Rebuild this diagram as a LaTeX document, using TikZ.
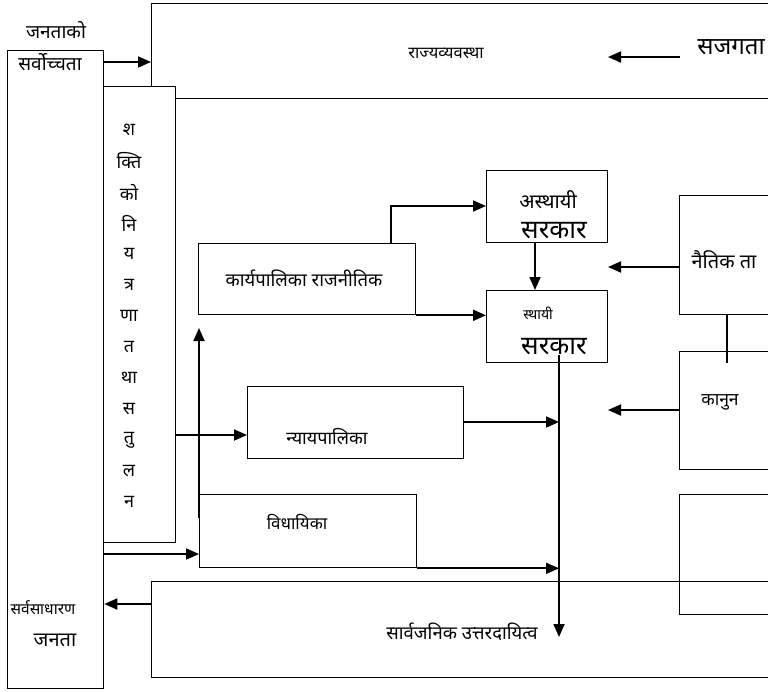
\documentclass[tikz,border=0pt]{standalone}
\usepackage{fontspec}
\newfontfamily\deva[Script=Devanagari]{Noto Sans}
\usetikzlibrary{arrows.meta,calc}
\newcommand{\fs}[1]{\deva\fontsize{#1}{#1}\selectfont}
\tikzset{
  bx/.style={draw, line width=1.3pt, inner sep=0pt, anchor=north west},
  wbx/.style={bx, fill=white},
  arr/.style={line width=1.8pt, -{Triangle[length=13pt,width=11pt]}},
  lbl/.style={font=\fs{18}, inner sep=0pt},
}
\begin{document}
\begin{tikzpicture}[x=1pt,y=-1pt]
\useasboundingbox (0,0) rectangle (768,691);
\clip (0,0) rectangle (768,691);
% boxes
\node[bx, minimum width=96pt, minimum height=638pt] (janata) at (7,50) {};
\node[bx, minimum width=640pt, minimum height=95pt] (rajya) at (151,3) {};
\node[wbx, minimum width=72pt, minimum height=456pt] (shakti) at (103,86) {};
\node[bx, minimum width=640pt, minimum height=96pt] (jawab) at (151,581) {};
\node[bx, minimum width=120pt, minimum height=119pt] (naitik) at (679,195) {};
\node[bx, minimum width=120pt, minimum height=118pt] (kanun) at (679,351) {};
\node[bx, minimum width=120pt, minimum height=120pt] (blank) at (679,494) {};
\node[bx, minimum width=217pt, minimum height=71pt] (karya) at (198,243) {};
\node[bx, minimum width=121pt, minimum height=72pt] (asth) at (486,170) {};
\node[bx, minimum width=121pt, minimum height=72pt] (sthayi) at (486,290) {};
\node[bx, minimum width=216pt, minimum height=72pt] (nyaya) at (247,386) {};
\node[bx, minimum width=217pt, minimum height=73pt] (vidh) at (199,494) {};
% texts
\node[lbl, font=\fs{19}] (t1) at (56,30) {जनताको};
\node[lbl, font=\fs{19}] (t2) at (50,62) {सर्वोच्चता};
\foreach \t [count=\i] in {श,क्ति,को,नि,य,त्र,णा,त,था,स,तु,ल,न}
  \node[lbl] (s\i) at (129,99+31*\i) {\t};
\node[lbl, font=\fs{16.5}] (t3) at (446,53) {राज्यव्यवस्था};
\node[lbl, font=\fs{24}] (t4) at (731,47) {सजगता};
\node[lbl, font=\fs{18.5}] (t5) at (304,278) {कार्यपालिका राजनीतिक};
\node[lbl, font=\fs{20}] (t6) at (548,200) {अस्थायी};
\node[lbl, font=\fs{26}] (t7) at (554,231) {सरकार};
\node[lbl, font=\fs{14}] (t8) at (538,313) {स्थायी};
\node[lbl, font=\fs{26}] (t9) at (554,347) {सरकार};
\node[lbl, font=\fs{20}] (t10) at (724,260) {नैतिक ता};
\node[lbl, font=\fs{17.5}] (t11) at (720,402) {कानुन};
\node[lbl] (t12) at (327,437) {न्यायपालिका};
\node[lbl, font=\fs{17}] (t13) at (297,522) {विधायिका};
\node[lbl, font=\fs{18.5}] (t14) at (462,632) {सार्वजनिक उत्तरदायित्व};
\node[lbl, font=\fs{15.5}] (t15) at (43,608) {सर्वसाधारण};
\node[lbl, font=\fs{20}] (t16) at (55,640) {जनता};
% free-end coordinates
\coordinate (sj) at (680,57);
\coordinate (sjt) at (608,57);
\coordinate (ntt) at (608,267);
\coordinate (knt) at (608,410);
\coordinate (vtop) at (559,355);
\coordinate (vend) at (559,637);
\coordinate (upst) at (199,518);
\coordinate (upend) at (199,328);
% connectors
\draw[arr] (janata.east |- 0,62) -- (rajya.west |- 0,62);
\draw[arr] (sj) -- (sjt);
\draw[arr] (shakti.east |- 0,435) -- (nyaya.west |- 0,435);
\draw[arr] (janata.east |- 0,554) -- (vidh.west |- 0,554);
\draw[arr] (jawab.west |- 0,604) -- (janata.east |- 0,604);
\draw[arr] (upst) -- (upend);
\draw[arr] (karya.north -| 391,0) |- (asth.west |- 0,206);
\draw[arr] (karya.south east) -- (sthayi.west |- karya.south east);
\draw[arr] (asth.south -| 535,0) -- (sthayi.north -| 535,0);
\draw[arr] (vtop) -- (vend);
\draw[arr] (nyaya.east |- 0,422) -- (vtop |- 0,422);
\draw[arr] (vidh.south east) -- (vtop |- vidh.south east);
\draw[arr] (naitik.west |- ntt) -- (ntt);
\draw[arr] (kanun.west |- knt) -- (knt);
\draw[line width=1.3pt] (naitik.south -| 727,0) -- (727,363);
\end{tikzpicture}
\end{document}
